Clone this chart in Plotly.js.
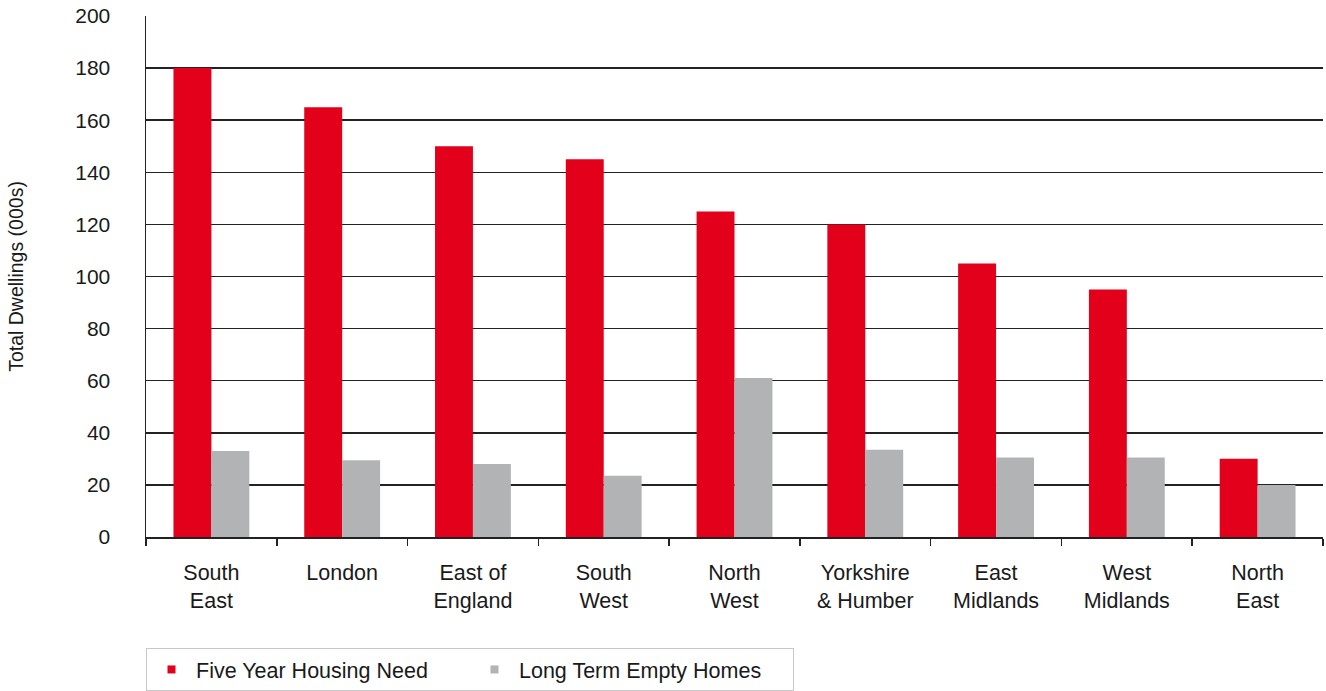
<!DOCTYPE html>
<html>
<head>
<meta charset="utf-8">
<script src="https://cdn.plot.ly/plotly-3.0.1.min.js"></script>
<style>html,body{margin:0;padding:0;background:#fff;}#chart{width:1326px;height:691px;}</style>
</head>
<body>
<div id="chart"></div>
<script>
const regions = ["South<br>East", "London", "East of<br>England", "South<br>West", "North<br>West", "Yorkshire<br>& Humber", "East<br>Midlands", "West<br>Midlands", "North<br>East"];
const housingNeed = [180, 165, 150, 145, 125, 120, 105, 95, 30];
const emptyHomes = [33, 29.5, 28, 23.5, 61, 33.5, 30.5, 30.5, 20];
const seriesNames = ["Five Year Housing Need", "Long Term Empty Homes"];
const yTicks = [0, 20, 40, 60, 80, 100, 120, 140, 160, 180, 200];

const FONT = "'Liberation Sans', Arial, Helvetica, sans-serif";
const data = [
  {type: 'bar', x: regions, y: housingNeed, name: seriesNames[0], marker: {color: '#e2001a'}, hoverinfo: 'none'},
  {type: 'bar', x: regions, y: emptyHomes, name: seriesNames[1], marker: {color: '#b2b3b5'}, hoverinfo: 'none'}
];
const layout = {
  width: 1326, height: 691,
  margin: {l: 146, r: 3, t: 16, b: 154, pad: 0, autoexpand: false},
  paper_bgcolor: '#fff', plot_bgcolor: '#fff',
  font: {family: FONT, color: '#1a1a1a', size: 20},
  barmode: 'group', bargap: 0.42, bargroupgap: 0,
  showlegend: true,
  legend: {
    orientation: 'h', x: 0, xanchor: 'left', y: -0.213, yanchor: 'top',
    bordercolor: '#c8c8c8', borderwidth: 1, font: {family: FONT, size: 21.5, color: '#1a1a1a'},
    entrywidth: 269, itemwidth: 39, traceorder: 'normal'
  },
  xaxis: {
    type: 'category', showline: true, linecolor: '#222', linewidth: 1.5,
    ticks: 'outside', ticklen: 7, tickcolor: '#222', tickwidth: 1.5,
    tickson: 'boundaries', showgrid: false, automargin: false,
    tickfont: {family: FONT, size: 21.5, color: '#1a1a1a'}, ticklabelstandoff: 16
  },
  yaxis: {
    range: [0, 200], tickvals: yTicks, ticktext: yTicks.map(String),
    showline: true, linecolor: '#222', linewidth: 1.5,
    showgrid: true, gridcolor: '#222', gridwidth: 1.5, zeroline: false,
    ticks: '', automargin: false, ticklabelstandoff: 30,
    tickfont: {family: FONT, size: 21, color: '#1a1a1a'},
    title: {text: 'Total Dwellings (000s)', font: {family: FONT, size: 19.5, color: '#1a1a1a'}, standoff: 46}
  }
};
Plotly.newPlot('chart', data, layout, {staticPlot: true, displayModeBar: false}).then(function () {
  document.querySelectorAll('#chart .legendpoints path').forEach(function (p) {
    p.setAttribute('d', 'M4,4H-4V-4H4Z');
  });
});
</script>
</body>
</html>
